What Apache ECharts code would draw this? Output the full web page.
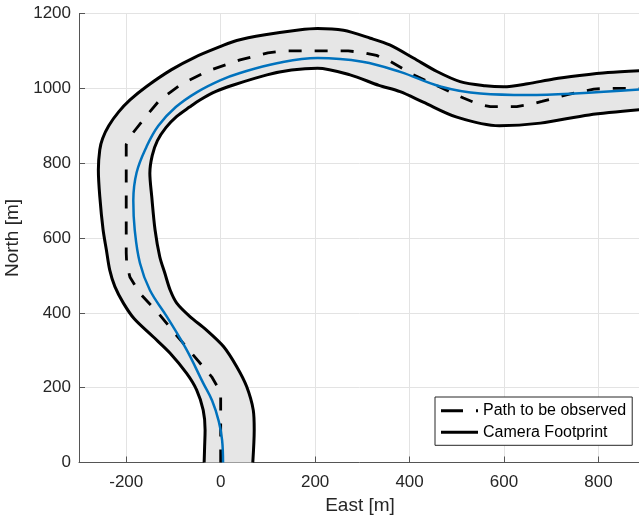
<!DOCTYPE html>
<html>
<head>
<meta charset="utf-8">
<script src="https://cdn.jsdelivr.net/npm/echarts@6/dist/echarts.min.js"></script>
<style>
html,body{margin:0;padding:0;background:#fff;}
#chart{width:639px;height:522px;}
</style>
</head>
<body>
<div id="chart"></div>
<script>
// ---- data (East [m], North [m]) ----
var pathToObserve = [
  [0,0],[0,180],[-8,205],[-19,229],[-58,287],[-97,345],[-132,399],[-171,452],[-192,495],[-199,530],
  [-200,560],[-200,850],[-192,871],[-164,916],[-129,969],[-86,1009],[-30,1045],[41,1076],[100,1095],
  [133,1100],[270,1100],[300,1096],[330,1088],[359,1072],[408,1036],[465,1003],[514,974],[545,958],
  [571,951],[627,951],[655,957],[680,965],[734,983],[790,998],[820,1000],[890,1000]
];
var flownPath = [
  [5,0],[3,60],[-4,110],[-18,165],[-37,212],[-72,301],[-114,390],[-150,461],[-171,533],[-182,622],
  [-185,700],[-178,775],[-157,844],[-132,900],[-95,950],[-50,990],[0,1022],[41,1041],[119,1067],
  [205,1081],[300,1071],[380,1044],[465,1005],[550,986],[650,982],[750,986],[890,997]
];
var footprintLeft = [
  [-35,0],[-34,42],[-33,87],[-37,140],[-51,194],[-72,238],[-107,292],[-143,336],[-183,384],[-206,426],
  [-224,470],[-235,515],[-242,568],[-249,622],[-256,711],[-259,782],[-256,836],[-250,866],[-237,900],
  [-216,937],[-192,969],[-157,1005],[-104,1050],[-55,1083],[0,1112],[34,1128],[94,1143],[165,1156],
  [205,1160],[260,1155],[317,1134],[358,1116],[408,1081],[458,1045],[507,1018],[560,1007],[599,1004],
  [650,1012],[705,1025],[760,1034],[820,1042],[890,1047]
];
var footprintRight = [
  [68,0],[71,87],[69,140],[55,203],[34,256],[6,310],[-30,354],[-65,390],[-93,426],[-107,461],[-118,505],
  [-129,550],[-139,622],[-146,711],[-150,773],[-145,820],[-134,860],[-116,895],[-93,925],[-66,950],
  [-44,969],[-10,992],[27,1009],[98,1036],[150,1049],[205,1054],[274,1036],[335,1008],[380,991],
  [429,963],[500,923],[590,900],[677,907],[780,929],[890,943]
];
var xTicks = [-200,0,200,400,600,800];
var yTicks = [0,200,400,600,800,1000,1200];

var FONT = 'Liberation Sans, Arial, Helvetica, sans-serif';
var TXT = '#262626';
var AX = '#555555';

var chart = echarts.init(document.getElementById('chart'), null, {renderer:'canvas'});
var option = {
  animation:false,
  backgroundColor:'#ffffff',
  grid:{left:79, right:-2, top:13.5, bottom:59.5, containLabel:false, outerBoundsMode:'none'},
  xAxis:{
    type:'value', min:-300, max:890, splitNumber:6,
    name:'East [m]', nameLocation:'middle', nameGap:34,
    nameTextStyle:{fontFamily:FONT, fontSize:19, color:TXT},
    axisLine:{show:true, onZero:false, lineStyle:{color:AX, width:1}},
    axisTick:{show:true, inside:true, length:6, lineStyle:{color:AX}},
    axisLabel:{margin:11, fontFamily:FONT, fontSize:17, color:TXT,
      formatter:function(v){ return xTicks.indexOf(v) >= 0 ? String(v) : ''; }},
    splitLine:{show:true, lineStyle:{color:'#e3e3e3', width:1}}
  },
  yAxis:{
    type:'value', min:0, max:1200, interval:200,
    name:'North [m]', nameLocation:'middle', nameGap:48,
    nameTextStyle:{fontFamily:FONT, fontSize:19, color:TXT},
    axisLine:{show:true, onZero:false, lineStyle:{color:AX, width:1}},
    axisTick:{show:true, inside:true, length:6, lineStyle:{color:AX}},
    axisLabel:{margin:8, fontFamily:FONT, fontSize:17, color:TXT,
      formatter:function(v){ return yTicks.indexOf(v) >= 0 ? String(v) : ''; }},
    splitLine:{show:true, lineStyle:{color:'#e3e3e3', width:1}}
  },
  legend:{
    left:435, top:397, orient:'vertical',
    itemWidth:37, itemHeight:3, itemGap:5.6,
    padding:[5.7,6,5,6],
    backgroundColor:'#ffffff', borderColor:'#262626', borderWidth:1, borderRadius:0,
    textStyle:{fontFamily:FONT, fontSize:16, color:'#000000', lineHeight:16},
    data:[
      {name:'Path to be observed', icon:'path://M0,0h22v3h-22z M35,0h2v3h-2z', itemStyle:{color:'#000000'}},
      {name:'Camera Footprint', icon:'rect', itemStyle:{color:'#000000'}}
    ]
  },
  series:[
    {
      type:'custom', name:'footprintFill', coordinateSystem:'cartesian2d', silent:true, z:1,
      data:[[0,0]],
      renderItem:function(params, api){
        var pts = footprintLeft.concat(footprintRight.slice().reverse()).map(function(p){ return api.coord(p); });
        return {type:'polygon', shape:{points:pts, smooth:0}, style:{fill:'#e6e6e6', stroke:null}};
      }
    },
    {
      type:'line', name:'Camera Footprint', data:footprintLeft, showSymbol:false, symbol:'none',
      smooth:0.3, clip:true, z:3,
      lineStyle:{color:'#000000', width:3}, itemStyle:{color:'#000000'}
    },
    {
      type:'line', name:'Camera Footprint', data:footprintRight, showSymbol:false, symbol:'none',
      smooth:0.3, clip:true, z:3,
      lineStyle:{color:'#000000', width:3}, itemStyle:{color:'#000000'}
    },
    {
      type:'line', name:'Path to be observed', data:pathToObserve, showSymbol:false, symbol:'none',
      smooth:false, clip:true, z:4,
      lineStyle:{color:'#000000', width:2.8, type:[13,13]}, itemStyle:{color:'#000000'}
    },
    {
      type:'line', name:'Flight path', data:flownPath, showSymbol:false, symbol:'none',
      smooth:0.4, clip:true, z:5,
      lineStyle:{color:'#0072BD', width:2.5}, itemStyle:{color:'#0072BD'}
    }
  ]
};
chart.setOption(option);
</script>
</body>
</html>
